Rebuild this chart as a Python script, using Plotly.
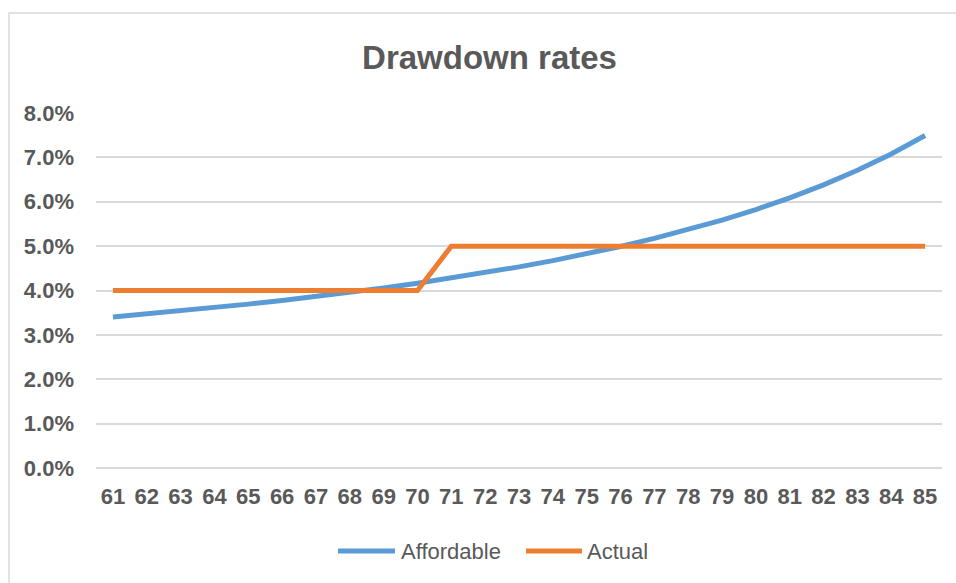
import plotly.graph_objects as go

ages = list(range(61, 86))
affordable = [0.03405, 0.03472, 0.03541, 0.03615, 0.03693, 0.03776, 0.03864, 0.03958,
              0.04057, 0.04164, 0.04278, 0.04400, 0.04532, 0.04673, 0.04826, 0.04992,
              0.05173, 0.05370, 0.05587, 0.05825, 0.06088, 0.06381, 0.06708, 0.07076,
              0.07494]
actual = [0.04] * 10 + [0.05] * 15
y_ticks = [0.0, 0.01, 0.02, 0.03, 0.04, 0.05, 0.06, 0.07, 0.08]
series_names = ["Affordable", "Actual"]
series_colors = ["#5B9BD5", "#ED7D31"]

FONT = "Liberation Sans, Arial, sans-serif"
GRAY = "#595959"

fig = go.Figure()
for name, vals, col in zip(series_names, [affordable, actual], series_colors):
    fig.add_trace(go.Scatter(x=ages, y=vals, mode="lines", name=name,
                             line=dict(color=col, width=5), showlegend=False))

W, H = 956, 583
L, R, T, B = 96, 14, 113, 115
pw, ph = W - L - R, H - T - B

def px(x):
    return (x - L) / pw

def py(y):
    return (H - B - y) / ph

shapes = [dict(type="rect", xref="paper", yref="paper",
               x0=px(9), x1=px(975), y0=py(600), y1=py(13),
               line=dict(color="#D9D9D9", width=1.5), layer="below")]
annotations = []
legend_items = [(338, 395, 399), (526, 582, 585)]
for (a, b, t), name, col in zip(legend_items, series_names, series_colors):
    shapes.append(dict(type="line", xref="paper", yref="paper",
                       x0=px(a), x1=px(b), y0=py(551), y1=py(551),
                       line=dict(color=col, width=5)))
    annotations.append(dict(text=name, xref="paper", yref="paper", x=px(t), y=py(551),
                            xanchor="left", yanchor="middle", showarrow=False,
                            font=dict(family=FONT, size=22, color=GRAY)))

fig.update_layout(
    width=W, height=H,
    margin=dict(l=L, r=R, t=T, b=B),
    paper_bgcolor="white", plot_bgcolor="white",
    title=dict(text="<b>Drawdown rates</b>", x=489.5 / W, xref="container", xanchor="center",
               y=1 - 57 / H, yref="container", yanchor="middle",
               font=dict(family=FONT, size=33, color=GRAY)),
    xaxis=dict(range=[60.5, 85.5], tickvals=ages, ticktext=[str(a) for a in ages],
               showgrid=False, zeroline=False, showline=False, ticks="",
               ticklabelstandoff=13,
               tickfont=dict(family=FONT, size=22, color=GRAY, weight="bold")),
    yaxis=dict(range=[0, 0.08], tickvals=y_ticks, tickformat=".1%",
               showgrid=True, gridcolor="#D9D9D9", gridwidth=1.5,
               zeroline=True, zerolinecolor="#D9D9D9", zerolinewidth=1.5,
               showline=False, ticks="", ticklabelstandoff=21,
               tickfont=dict(family=FONT, size=22, color=GRAY, weight="bold")),
    shapes=shapes, annotations=annotations,
)
fig.write_html("out.html")
